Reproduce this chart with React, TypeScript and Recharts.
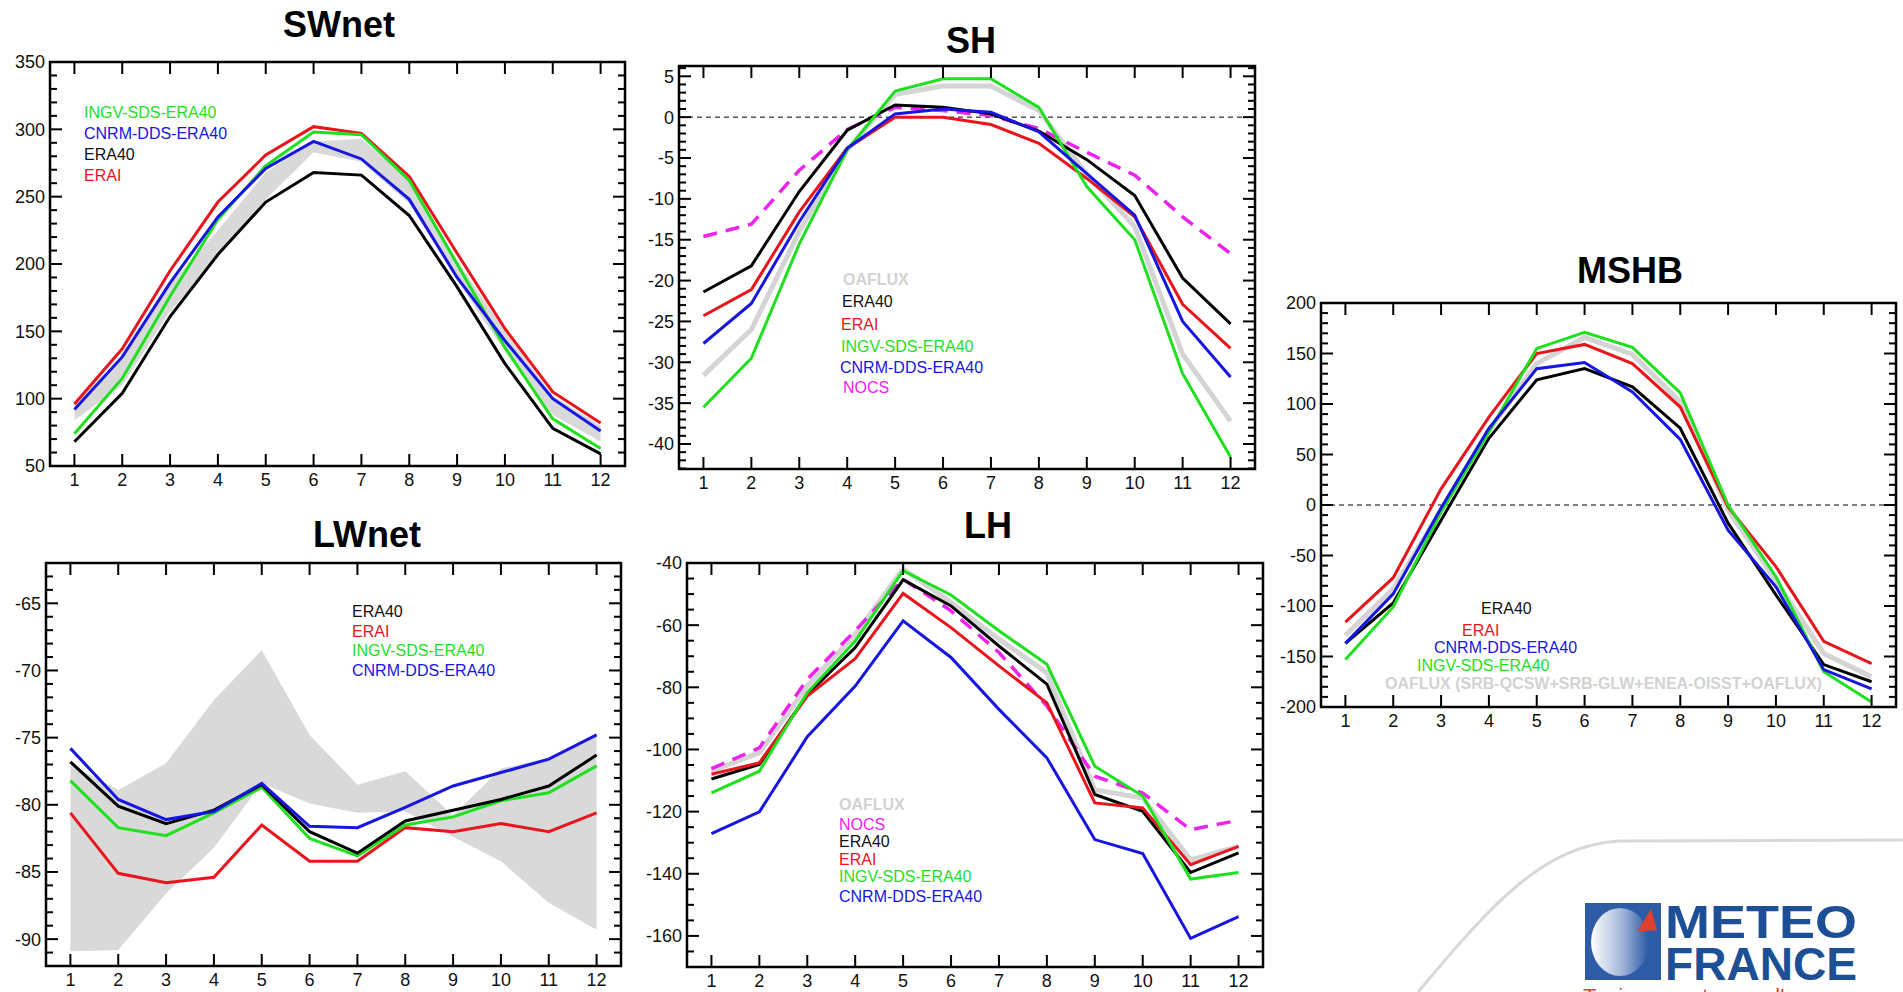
import React from 'react';
import { ComposedChart, Line, Area, XAxis, YAxis, ReferenceArea, ReferenceLine } from 'recharts';

const MONTHS = [1, 2, 3, 4, 5, 6, 7, 8, 9, 10, 11, 12];

// SWnet
const SW_ERA40 = [68, 104, 161, 207, 246, 268, 266, 236, 183, 126, 78, 59];
const SW_ERAI = [96, 137, 195, 246, 281, 302, 297, 265, 208, 152, 105, 82];
const SW_INGV = [74, 115, 176, 233, 273, 298, 296, 262, 200, 138, 85, 63];
const SW_CNRM = [92, 131, 186, 235, 271, 291, 278, 248, 190, 143, 100, 76];
const SW_BAND_LOW = [84, 110, 165, 205, 248, 283, 276, 245, 188, 135, 88, 68];
const SW_BAND_HIGH = [97, 130, 185, 225, 268, 291, 293, 262, 203, 150, 102, 80];
const SW_YTICKS = [50, 100, 150, 200, 250, 300, 350];

// SH
const SH_ERA40 = [-21.4, -18.2, -9.1, -1.6, 1.5, 1.2, 0.4, -1.7, -5.2, -9.6, -19.7, -25.3];
const SH_ERAI = [-24.3, -21.1, -11.6, -3.8, 0.0, 0.0, -0.9, -3.2, -7.5, -12.2, -22.9, -28.3];
const SH_INGV = [-35.5, -29.5, -15.5, -4.0, 3.2, 4.7, 4.7, 1.2, -8.5, -15.0, -31.4, -41.6];
const SH_CNRM = [-27.7, -22.8, -12.8, -3.8, 0.4, 1.0, 0.6, -1.8, -6.9, -12.0, -25.0, -31.8];
const SH_OAFLUX = [-31.6, -26.0, -14.0, -4.0, 2.8, 3.8, 3.8, 0.8, -7.0, -13.4, -29.0, -37.2];
const SH_NOCS = [-14.6, -13.1, -6.5, -1.5, 1.2, 0.8, 0.2, -1.4, -4.3, -7.1, -12.2, -16.7];
const SH_YTICKS = [-40, -35, -30, -25, -20, -15, -10, -5, 0, 5];

// MSHB
const MS_ERA40 = [-137, -97, -15, 66, 124, 135, 117, 76, -18, -89, -158, -175];
const MS_ERAI = [-116, -72, 16, 87, 150, 159, 140, 97, -2, -61, -135, -157];
const MS_CNRM = [-137, -88, -3, 76, 135, 141, 112, 65, -25, -81, -163, -182];
const MS_INGV = [-153, -101, -7, 72, 155, 171, 156, 111, 0, -71, -165, -195];
const MS_OAFLUX = [-129, -83, -5, 74, 140, 166, 149, 102, -5, -75, -147, -170];
const MS_YTICKS = [-200, -150, -100, -50, 0, 50, 100, 150, 200];

// LWnet
const LW_ERA40 = [-76.8, -80.1, -81.4, -80.4, -78.5, -82.0, -83.6, -81.2, -80.4, -79.6, -78.6, -76.3];
const LW_ERAI = [-80.6, -85.1, -85.8, -85.4, -81.5, -84.2, -84.2, -81.7, -82.0, -81.4, -82.0, -80.6];
const LW_INGV = [-78.2, -81.7, -82.3, -80.6, -78.7, -82.5, -83.8, -81.5, -80.9, -79.7, -79.1, -77.1];
const LW_CNRM = [-75.8, -79.6, -81.1, -80.5, -78.4, -81.6, -81.7, -80.2, -78.6, -77.6, -76.6, -74.8];
const LW_BAND_LOW = [-90.9, -90.8, -86.6, -83.2, -78.4, -79.9, -80.6, -80.5, -82.4, -84.2, -87.3, -89.3];
const LW_BAND_HIGH = [-77.0, -78.9, -76.9, -72.2, -68.5, -74.8, -78.5, -77.5, -80.8, -77.3, -76.5, -74.9];
const LW_YTICKS = [-90, -85, -80, -75, -70, -65];

// LH
const LH_ERA40 = [-109.5, -104.8, -82.3, -67.2, -45.4, -53.8, -66.7, -79.0, -114.5, -119.9, -139.6, -133.3];
const LH_ERAI = [-108.0, -104.3, -82.8, -70.8, -49.8, -60.8, -73.1, -85.0, -117.2, -118.8, -137.1, -131.2];
const LH_INGV = [-114.0, -107.0, -81.7, -65.1, -42.5, -50.3, -61.8, -72.6, -105.4, -115.0, -141.7, -139.6];
const LH_CNRM = [-127.1, -120.1, -95.9, -79.6, -58.6, -70.4, -87.1, -102.7, -129.0, -133.5, -160.8, -153.8];
const LH_NOCS = [-106.2, -99.5, -77.4, -61.8, -45.2, -55.4, -68.8, -86.0, -108.6, -114.0, -125.8, -122.8];
const LH_OAFLUX = [-107.0, -101.0, -79.6, -63.0, -41.9, -52.7, -64.5, -75.3, -113.0, -115.6, -135.5, -131.2];
const LH_YTICKS = [-160, -140, -120, -100, -80, -60, -40];

const COL = {
  black: '#000000',
  red: '#e8161c',
  green: '#1fe01f',
  blue: '#1616e0',
  magenta: '#ee22ee',
  gray: '#d4d4d4',
  band: '#d9d9d9',
  legendGray: '#d2d2d2',
};

const FONT = '"Liberation Sans", Arial, Helvetica, sans-serif';
const ML = 60;
const MR = 12;
const MT = 12;
const MB = 32;
const X_DOMAIN: [number, number] = [0.49, 12.51];

type Frame = { l: number; t: number; r: number; b: number };
type Series = { key: string; values: number[]; color: string; width?: number; dash?: string };

type PanelProps = {
  frame: Frame;
  yDomain: [number, number];
  yTicks: number[];
  yMinorStep: number;
  series: Series[];
  band?: { low: number[]; high: number[] };
  zeroLine?: boolean;
};

function Panel({ frame, yDomain, yTicks, yMinorStep, series, band, zeroLine }: PanelProps) {
  const pw = frame.r - frame.l;
  const ph = frame.b - frame.t;
  const left = ML;
  const right = ML + pw;
  const top = MT;
  const bottom = MT + ph;

  const data = MONTHS.map((m, i) => {
    const row: any = { month: m };
    series.forEach((s) => {
      row[s.key] = s.values[i];
    });
    if (band) row.band = [band.low[i], band.high[i]];
    return row;
  });

  // minor + major tick positions along the y axis
  const allTicks: number[] = [];
  const first = Math.ceil(yDomain[0] / yMinorStep - 1e-9) * yMinorStep;
  for (let v = first; v <= yDomain[1] + 1e-9; v += yMinorStep) {
    allTicks.push(Math.round(v * 1000) / 1000);
  }

  const yTick = (props: any) => {
    const { y, payload } = props;
    const major = yTicks.includes(payload.value);
    const len = major ? 12 : 7;
    return (
      <g>
        <line x1={left} x2={left + len} y1={y} y2={y} stroke="#000" strokeWidth={2} />
        <line x1={right - len} x2={right} y1={y} y2={y} stroke="#000" strokeWidth={2} />
        {major && (
          <text x={left - 5} y={y} dy="0.36em" textAnchor="end" fontSize={18} fontFamily={FONT} fill="#111">
            {payload.value}
          </text>
        )}
      </g>
    );
  };

  const xTick = (props: any) => {
    const { x, payload } = props;
    return (
      <g>
        <line x1={x} x2={x} y1={bottom} y2={bottom - 12} stroke="#000" strokeWidth={2} />
        <line x1={x} x2={x} y1={top} y2={top + 12} stroke="#000" strokeWidth={2} />
        <text x={x} y={bottom + 20} textAnchor="middle" fontSize={18} fontFamily={FONT} fill="#111">
          {payload.value}
        </text>
      </g>
    );
  };

  return (
    <div style={{ position: 'absolute', left: frame.l - ML, top: frame.t - MT }}>
      <ComposedChart
        width={pw + ML + MR}
        height={ph + MT + MB}
        data={data}
        margin={{ top: MT, right: MR, bottom: MB, left: ML }}
      >
        <XAxis
          dataKey="month"
          type="number"
          domain={X_DOMAIN}
          ticks={MONTHS}
          interval={0}
          allowDataOverflow
          mirror
          height={1}
          axisLine={false}
          tickLine={false}
          tick={xTick}
        />
        <YAxis
          type="number"
          domain={yDomain}
          ticks={allTicks}
          interval={0}
          allowDataOverflow
          mirror
          width={1}
          axisLine={false}
          tickLine={false}
          tick={yTick}
        />
        {band && (
          <Area
            dataKey="band"
            type="linear"
            stroke="none"
            fill={COL.band}
            fillOpacity={1}
            dot={false}
            activeDot={false}
            isAnimationActive={false}
          />
        )}
        {zeroLine && <ReferenceLine y={0} stroke="#000" strokeWidth={1} strokeDasharray="5 4" />}
        {series.map((s) => (
          <Line
            key={s.key}
            dataKey={s.key}
            type="linear"
            stroke={s.color}
            strokeWidth={s.width ?? 3}
            strokeDasharray={s.dash}
            dot={false}
            activeDot={false}
            isAnimationActive={false}
          />
        ))}
        <ReferenceArea
          x1={X_DOMAIN[0]}
          x2={X_DOMAIN[1]}
          y1={yDomain[0]}
          y2={yDomain[1]}
          fill="none"
          stroke="#000"
          strokeWidth={2.5}
          ifOverflow="visible"
        />
      </ComposedChart>
    </div>
  );
}

type Label = { text: string; x: number; y: number; color: string; bold?: boolean };

const TITLES: Label[] = [
  { text: 'SWnet', x: 339, y: 37, color: '#000' },
  { text: 'SH', x: 971, y: 53, color: '#000' },
  { text: 'MSHB', x: 1630, y: 283, color: '#000' },
  { text: 'LWnet', x: 367, y: 547, color: '#000' },
  { text: 'LH', x: 988, y: 538, color: '#000' },
];

const LEGENDS: Label[] = [
  // SWnet
  { text: 'INGV-SDS-ERA40', x: 84, y: 118, color: COL.green },
  { text: 'CNRM-DDS-ERA40', x: 84, y: 139, color: COL.blue },
  { text: 'ERA40', x: 84, y: 160, color: '#111' },
  { text: 'ERAI', x: 84, y: 181, color: COL.red },
  // SH
  { text: 'OAFLUX', x: 843, y: 285, color: COL.legendGray, bold: true },
  { text: 'ERA40', x: 842, y: 307, color: '#111' },
  { text: 'ERAI', x: 841, y: 330, color: COL.red },
  { text: 'INGV-SDS-ERA40', x: 841, y: 352, color: COL.green },
  { text: 'CNRM-DDS-ERA40', x: 840, y: 373, color: COL.blue },
  { text: 'NOCS', x: 843, y: 393, color: COL.magenta },
  // MSHB
  { text: 'ERA40', x: 1481, y: 614, color: '#111' },
  { text: 'ERAI', x: 1462, y: 636, color: COL.red },
  { text: 'CNRM-DDS-ERA40', x: 1434, y: 653, color: COL.blue },
  { text: 'INGV-SDS-ERA40', x: 1417, y: 671, color: COL.green },
  { text: 'OAFLUX (SRB-QCSW+SRB-GLW+ENEA-OISST+OAFLUX)', x: 1385, y: 689, color: COL.legendGray, bold: true },
  // LWnet
  { text: 'ERA40', x: 352, y: 617, color: '#111' },
  { text: 'ERAI', x: 352, y: 637, color: COL.red },
  { text: 'INGV-SDS-ERA40', x: 352, y: 656, color: COL.green },
  { text: 'CNRM-DDS-ERA40', x: 352, y: 676, color: COL.blue },
  // LH
  { text: 'OAFLUX', x: 839, y: 810, color: COL.legendGray, bold: true },
  { text: 'NOCS', x: 839, y: 830, color: COL.magenta },
  { text: 'ERA40', x: 839, y: 847, color: '#111' },
  { text: 'ERAI', x: 839, y: 865, color: COL.red },
  { text: 'INGV-SDS-ERA40', x: 839, y: 882, color: COL.green },
  { text: 'CNRM-DDS-ERA40', x: 839, y: 902, color: COL.blue },
];

function Overlay() {
  return (
    <svg
      width={1903}
      height={992}
      style={{ position: 'absolute', left: 0, top: 0, pointerEvents: 'none' }}
    >
      <defs>
        <linearGradient id="sphere" x1="0" y1="0" x2="1" y2="0">
          <stop offset="0" stopColor="#ffffff" />
          <stop offset="0.55" stopColor="#9fb4d8" />
          <stop offset="1" stopColor="#2a58a3" />
        </linearGradient>
      </defs>
      {TITLES.map((t) => (
        <text key={t.text} x={t.x} y={t.y} textAnchor="middle" fontSize={36} fontWeight="bold" fontFamily={FONT} fill={t.color}>
          {t.text}
        </text>
      ))}
      {LEGENDS.map((l, i) => (
        <text key={i} x={l.x} y={l.y} fontSize={16} fontWeight={l.bold ? 'bold' : 'normal'} fontFamily={FONT} fill={l.color}>
          {l.text}
        </text>
      ))}
      {/* Meteo-France logo */}
      <path d="M1418,992 C1495,900 1545,845 1620,841 L1903,840" stroke="#d8d8d8" strokeWidth={3} fill="none" />
      <rect x={1585} y={903} width={76} height={77} fill="#2d5ba6" />
      <ellipse cx={1620} cy={942} rx={29} ry={34} fill="url(#sphere)" />
      <polygon points="1651,909 1657,930 1637,932" fill="#e0402e" />
      <text x={1665} y={938} fontSize={46} fontWeight="bold" fontFamily={'"Liberation Sans Narrow", ' + FONT} fill="#1c4f95" textLength={192} lengthAdjust="spacingAndGlyphs">
        METEO
      </text>
      <text x={1665} y={980} fontSize={46} fontWeight="bold" fontFamily={'"Liberation Sans Narrow", ' + FONT} fill="#1c4f95" textLength={192} lengthAdjust="spacingAndGlyphs">
        FRANCE
      </text>
      <text x={1583} y={1003} fontSize={20} fontFamily={FONT} fill="#e0402e" textLength={272} lengthAdjust="spacingAndGlyphs">
        Toujours un temps d'avance
      </text>
    </svg>
  );
}

export default function App() {
  return (
    <div
      style={{
        position: 'absolute',
        left: 0,
        top: 0,
        width: 1903,
        height: 992,
        overflow: 'hidden',
        background: '#fff',
        fontFamily: FONT,
      }}
    >
      <Panel
        frame={{ l: 50, t: 62, r: 625, b: 466 }}
        yDomain={[50, 350]}
        yTicks={SW_YTICKS}
        yMinorStep={10}
        band={{ low: SW_BAND_LOW, high: SW_BAND_HIGH }}
        series={[
          { key: 'era40', values: SW_ERA40, color: COL.black },
          { key: 'erai', values: SW_ERAI, color: COL.red },
          { key: 'ingv', values: SW_INGV, color: COL.green },
          { key: 'cnrm', values: SW_CNRM, color: COL.blue },
        ]}
      />
      <Panel
        frame={{ l: 679, t: 66, r: 1255, b: 469 }}
        yDomain={[-43.06, 6.26]}
        yTicks={SH_YTICKS}
        yMinorStep={1}
        zeroLine
        series={[
          { key: 'oaflux', values: SH_OAFLUX, color: COL.gray, width: 5 },
          { key: 'nocs', values: SH_NOCS, color: COL.magenta, width: 3.5, dash: '14 9' },
          { key: 'era40', values: SH_ERA40, color: COL.black },
          { key: 'erai', values: SH_ERAI, color: COL.red },
          { key: 'ingv', values: SH_INGV, color: COL.green },
          { key: 'cnrm', values: SH_CNRM, color: COL.blue },
        ]}
      />
      <Panel
        frame={{ l: 1321, t: 303, r: 1896, b: 707 }}
        yDomain={[-200, 200]}
        yTicks={MS_YTICKS}
        yMinorStep={10}
        zeroLine
        series={[
          { key: 'oaflux', values: MS_OAFLUX, color: COL.gray, width: 5 },
          { key: 'era40', values: MS_ERA40, color: COL.black },
          { key: 'erai', values: MS_ERAI, color: COL.red },
          { key: 'ingv', values: MS_INGV, color: COL.green },
          { key: 'cnrm', values: MS_CNRM, color: COL.blue },
        ]}
      />
      <Panel
        frame={{ l: 46, t: 563, r: 621, b: 966 }}
        yDomain={[-92, -62]}
        yTicks={LW_YTICKS}
        yMinorStep={1}
        band={{ low: LW_BAND_LOW, high: LW_BAND_HIGH }}
        series={[
          { key: 'erai', values: LW_ERAI, color: COL.red },
          { key: 'ingv', values: LW_INGV, color: COL.green },
          { key: 'era40', values: LW_ERA40, color: COL.black },
          { key: 'cnrm', values: LW_CNRM, color: COL.blue },
        ]}
      />
      <Panel
        frame={{ l: 687, t: 563, r: 1263, b: 967 }}
        yDomain={[-170, -40]}
        yTicks={LH_YTICKS}
        yMinorStep={5}
        series={[
          { key: 'oaflux', values: LH_OAFLUX, color: COL.gray, width: 5 },
          { key: 'nocs', values: LH_NOCS, color: COL.magenta, width: 3.5, dash: '14 9' },
          { key: 'era40', values: LH_ERA40, color: COL.black },
          { key: 'erai', values: LH_ERAI, color: COL.red },
          { key: 'ingv', values: LH_INGV, color: COL.green },
          { key: 'cnrm', values: LH_CNRM, color: COL.blue },
        ]}
      />
      <Overlay />
    </div>
  );
}
